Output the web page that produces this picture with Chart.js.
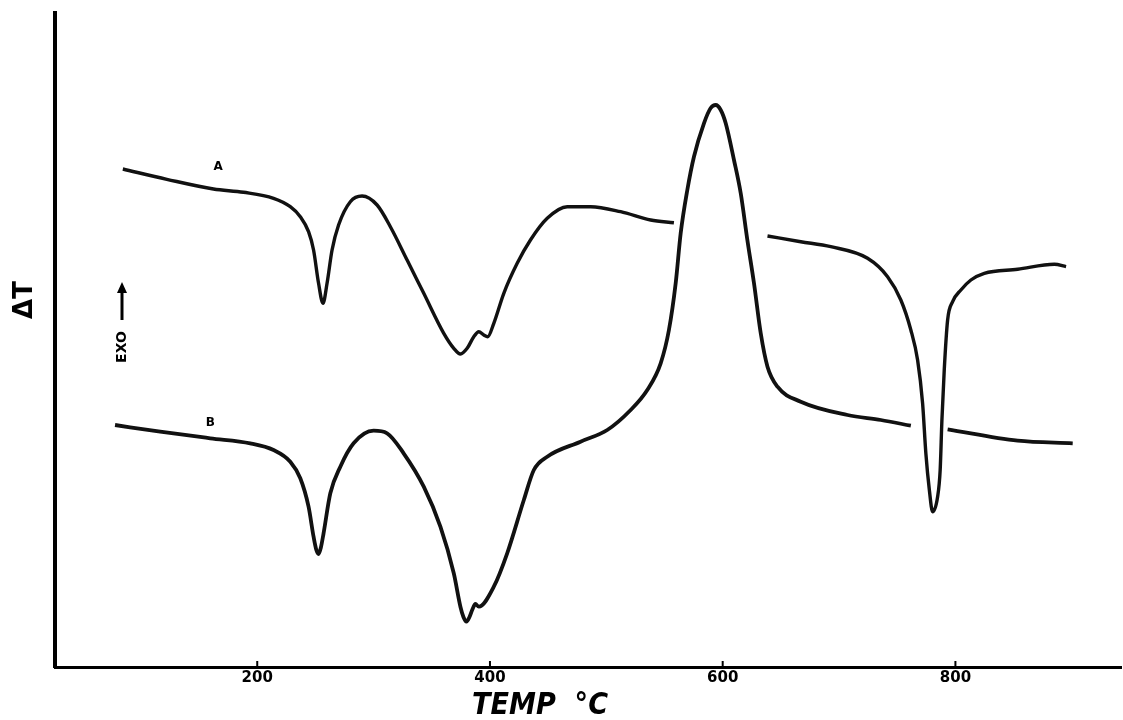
<!DOCTYPE html>
<html>
<head>
<meta charset="utf-8">
<script src="https://cdn.jsdelivr.net/npm/chart.js@4/dist/chart.umd.min.js"></script>
<style>
  html, body { margin: 0; padding: 0; background: #fff; }
  #c { display: block; }
</style>
</head>
<body>
<canvas id="c" width="1123" height="720"></canvas>
<script>
// ---- Data (temperature in °C, ΔT in arbitrary units) ----
const tempA = [84.5,122.3,162.4,188.2,214.0,228.4,237.0,244.1,248.4,252.7,256.5,260.0,264.3,269.9,280.0,290.1,303.0,314.4,328.8,343.1,360.3,368.9,374.6,380.4,386.1,390.4,394.7,398.1,403.3,411.9,423.4,434.8,449.2,466.4,486.5,512.3,538.1,558.1,
               600,
               638.5,667.1,692.9,724.5,741.7,753.1,761.7,767.5,771.8,774.6,777.6,780.4,784.7,786.9,788.4,790.4,793.3,797.6,804.7,813.3,824.8,853.5,885.0,895.1];
const dtA   = [49.8,48.77,47.8,47.47,46.87,46.03,45.03,43.53,41.7,38.37,36.37,38.37,41.7,44.2,46.53,47.1,46.2,44.03,40.7,37.37,33.37,31.87,31.3,31.87,33.03,33.53,33.2,33.03,34.37,37.37,40.37,42.7,44.87,46.03,46.03,45.53,44.7,44.43,
               null,
               43.1,42.53,42.03,40.87,39.03,36.7,33.7,30.7,26.37,21.37,17.7,15.53,17.03,19.7,24.7,29.7,34.7,36.53,37.7,38.7,39.37,39.77,40.27,40.03];

const tempB = [77.8,116.6,159.6,194.0,214.0,228.4,237.0,244.1,248.4,250.8,252.7,254.6,257.0,262.8,271.4,282.8,300.0,311.6,325.8,343.1,357.4,368.9,374.6,377.2,379.8,382.4,384.7,387.5,390.4,403.3,414.8,429.1,437.7,449.2,477.8,500.8,520.9,535.2,546.7,553.8,559.6,563.9,569.6,575.3,583.9,589.7,594.0,598.3,602.6,609.7,615.5,621.2,626.9,632.7,638.5,647.1,667.1,707.3,735.9,761.7,
               775,
               793.3,853.5,900.8];
const dtB   = [24.2,23.53,22.87,22.37,21.7,20.53,18.87,16.03,13.03,11.7,11.3,11.9,13.37,17.37,20.03,22.37,23.63,23.37,21.37,18.03,14.03,9.37,6.03,5.0,4.53,5.0,5.7,6.3,6.03,8.03,11.37,16.7,19.7,21.03,22.53,23.7,25.7,27.7,30.37,33.7,38.37,43.37,47.7,51.03,54.37,55.9,56.2,55.7,54.37,50.7,47.37,42.7,38.37,33.37,30.03,28.03,26.53,25.2,24.7,24.13,
               null,
               23.77,22.63,22.37];

const xTicks = [200, 400, 600, 800];
const curveLabels = [
  { text: 'A', x: 166.5, y: 50.0 },
  { text: 'B', x: 159.6, y: 24.4 }
];
const xRange = [26.2, 942.3];
const yRange = [0, 65.4];

const toXY = (xs, ys) => xs.map((t, i) => ({ x: t, y: ys[i] }));

const decorPlugin = {
  id: 'decor',
  afterDraw(chart) {
    const ctx = chart.ctx;
    const xs = chart.scales.x, ys = chart.scales.y;
    const ca = chart.chartArea;
    ctx.save();
    ctx.fillStyle = '#000';
    ctx.strokeStyle = '#000';
    // inward tick marks on x axis
    ctx.lineWidth = 2;
    xTicks.forEach(v => {
      const px = xs.getPixelForValue(v);
      ctx.beginPath();
      ctx.moveTo(px, ca.bottom);
      ctx.lineTo(px, ca.bottom - 6);
      ctx.stroke();
    });
    // curve labels
    ctx.font = 'bold 12px "DejaVu Sans"';
    ctx.textAlign = 'center';
    ctx.textBaseline = 'middle';
    curveLabels.forEach(l => {
      ctx.fillText(l.text, xs.getPixelForValue(l.x), ys.getPixelForValue(l.y));
    });
    // ΔT axis title
    ctx.save();
    ctx.translate(25, 300);
    ctx.rotate(-Math.PI / 2);
    ctx.font = 'bold 26px "DejaVu Sans"';
    ctx.fillText('ΔT', 0, 0);
    ctx.restore();
    // EXO with arrow
    ctx.save();
    ctx.translate(122, 347);
    ctx.rotate(-Math.PI / 2);
    ctx.font = 'bold 14px "DejaVu Sans"';
    ctx.fillText('EXO', 0, 0);
    ctx.restore();
    ctx.lineWidth = 3;
    ctx.beginPath();
    ctx.moveTo(122, 320);
    ctx.lineTo(122, 290);
    ctx.stroke();
    ctx.beginPath();
    ctx.moveTo(122, 282);
    ctx.lineTo(117, 293);
    ctx.lineTo(127, 293);
    ctx.closePath();
    ctx.fill();
    // x axis title
    ctx.save();
    ctx.font = 'italic bold 30px "DejaVu Sans"';
    const w = ctx.measureText('TEMP  °C').width;
    ctx.translate(540, 706);
    ctx.scale(136 / w, 1);
    ctx.textAlign = 'center';
    ctx.fillText('TEMP  °C', 0, 0);
    ctx.restore();
    ctx.restore();
  }
};

new Chart(document.getElementById('c'), {
  type: 'line',
  data: {
    datasets: [
      { label: 'A', data: toXY(tempA, dtA), borderColor: '#111', borderWidth: 3.4, pointRadius: 0, cubicInterpolationMode: 'monotone', spanGaps: false, fill: false },
      { label: 'B', data: toXY(tempB, dtB), borderColor: '#111', borderWidth: 3.8, pointRadius: 0, cubicInterpolationMode: 'monotone', spanGaps: false, fill: false }
    ]
  },
  options: {
    responsive: false,
    animation: false,
    devicePixelRatio: 1,
    layout: { padding: { top: 13, right: 2, left: 0, bottom: 0 } },
    plugins: { legend: { display: false }, tooltip: { enabled: false } },
    scales: {
      x: {
        type: 'linear',
        min: xRange[0], max: xRange[1],
        afterBuildTicks: s => { s.ticks = xTicks.map(v => ({ value: v })); },
        afterFit: s => { s.height = 53; },
        grid: { display: false, drawTicks: false },
        border: { display: true, color: '#000', width: 3 },
        ticks: { color: '#000', padding: 2, maxRotation: 0, autoSkip: false,
                 font: { family: '"DejaVu Sans"', weight: 'bold', size: 15 } },
        title: { display: false }
      },
      y: {
        type: 'linear',
        min: yRange[0], max: yRange[1],
        afterFit: s => { s.width = 55; },
        grid: { display: false, drawTicks: false },
        border: { display: true, color: '#000', width: 4 },
        ticks: { display: false },
        title: { display: false }
      }
    }
  },
  plugins: [decorPlugin]
});
</script>
</body>
</html>
